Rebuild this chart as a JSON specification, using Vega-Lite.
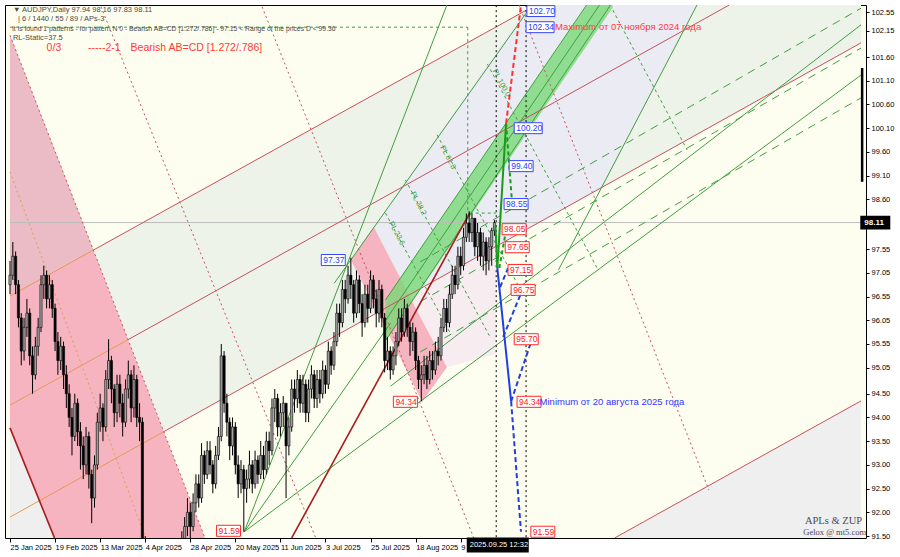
{
"$schema":"https://vega.github.io/schema/vega-lite/v6.json",
"width":861,"height":533,
"autosize":{"type":"none"},
"padding":{"left":5,"top":5,"right":34,"bottom":19},
"background":"#ffffff",
"config":{"view":{"stroke":"#000000","strokeWidth":1,"fill":"#fefef0"}},
"encoding":{
 "x":{"field":"t","type":"quantitative","title":null,"scale":{"domain":[0,302.1],"nice":false,"zero":false},
  "axis":{"orient":"bottom","title":null,"values":[0,16,32,48,64,80,96,112,128,144,160],"labelExpr":"['25 Jan 2025','19 Feb 2025','13 Mar 2025','4 Apr 2025','28 Apr 2025','20 May 2025','11 Jun 2025','3 Jul 2025','25 Jul 2025','18 Aug 2025','9'][round(datum.value/16)]","labelAlign":"left","labelDx":1,"labelFont":"Liberation Sans","labelFontSize":7.5,"labelColor":"#000000","tickColor":"#000000","tickSize":4,"domain":false,"grid":false,"labelPadding":1,"labelOverlap":false,"labelBound":false,"labelFlush":false}},
 "y":{"field":"p","type":"quantitative","title":null,"scale":{"domain":[91.458,102.698],"nice":false,"zero":false},
  "axis":{"orient":"right","title":null,"values":[91.5,92,92.5,93,93.5,94,94.5,95.05,95.55,96.05,96.55,97.05,97.55,98.6,99.1,99.6,100.1,100.6,101.1,101.6,102.15,102.55],"format":".2f","labelFont":"Liberation Sans","labelFontSize":7.5,"labelColor":"#000000","tickColor":"#000000","tickSize":3,"domain":false,"grid":false,"labelPadding":2,"labelOverlap":false,"labelBound":false,"labelFlush":false}}
},
"datasets":{
"rband":[{"t":0,"p":96.56,"bot":91.90},{"t":302.1,"p":106.49,"bot":101.90}],
"greyL":[{"t":0,"p":93.78,"bot":90},{"t":20,"p":90.85,"bot":90}],
"greyR":[{"t":200,"p":90.97,"bot":90},{"t":302.1,"p":94.35,"bot":90}],
"lav":[{"t":121.05,"p":97.32,"bot":97.32},{"t":129.1,"p":98.01,"bot":98.02},{"t":141.75,"p":99.08,"bot":96.60},{"t":184.2,"p":102.70,"bot":98.00},{"t":210.2,"p":102.70,"bot":98.84},{"t":243.9,"p":102.70,"bot":102.70}],
"lpink":[{"t":141.75,"p":96.59,"bot":96.58},{"t":155.1,"p":97.03,"bot":95.06},{"t":172.6,"p":97.61,"bot":95.34}],
"pink1":[{"t":0,"p":102.06,"bot":93.78},{"t":71.93,"p":91.04,"bot":83.23}],
"mauve":[{"t":0,"p":102.06,"bot":96.56},{"t":29.6,"p":97.53,"bot":97.53}],
"pink2":[{"t":121.05,"p":97.32,"bot":97.32},{"t":129.1,"p":98.02,"bot":96.37},{"t":146.3,"p":96.05,"bot":94.33},{"t":155.1,"p":95.06,"bot":95.06}],
"gband":[{"t":133.33,"p":96.48,"bot":95.62},{"t":213.9,"p":103.49,"bot":102.64}],
"redThin":[{"t":29.6,"p":97.53,"t2":186.67,"p2":102.70},{"t":41.9,"p":95.64,"t2":255.4,"p2":102.70},{"t":54.6,"p":93.70,"t2":302.1,"p2":101.90},{"t":214.7,"p":91.46,"t2":302.1,"p2":94.35}],
"orangeThin":[{"t":0,"p":96.56,"t2":29.6,"p2":97.53},{"t":0,"p":94.26,"t2":41.9,"p2":95.64},{"t":0,"p":91.90,"t2":54.6,"p2":93.70}],
"darkRed":[{"t":0,"p":93.78,"t2":15.79,"p2":91.46},{"t":100,"p":91.46,"t2":163.16,"p2":98.31}],
"redDot":[{"t":0,"p":102.06,"t2":70.2,"p2":91.31},{"t":32.3,"p":102.66,"t2":108.8,"p2":91.42},{"t":89.5,"p":102.66,"t2":164.9,"p2":91.42},{"t":180.7,"p":102.70,"t2":248.1,"p2":92.47}],
"orangeDot":[{"t":0,"p":99.18,"t2":48.4,"p2":91.42}],
"greenSolid":[{"t":83.16,"p":91.59,"t2":155.1,"p2":102.70},{"t":83.16,"p":91.59,"t2":135.1,"p2":95.99},{"t":83.16,"p":91.59,"t2":302.1,"p2":101.22},{"t":135.1,"p":94.66,"t2":302.1,"p2":102.28},{"t":115.1,"p":96.83,"t2":185.3,"p2":102.70},{"t":194.7,"p":97.11,"t2":243.9,"p2":102.70},{"t":133.33,"p":96.05,"t2":209.3,"p2":102.70},{"t":133.33,"p":96.48,"t2":204.7,"p2":102.70},{"t":133.33,"p":95.62,"t2":213.2,"p2":102.70}],
"greenDash":[{"t":145.6,"p":97.28,"t2":302.1,"p2":102.63},{"t":145.6,"p":96.44,"t2":302.1,"p2":101.79},{"t":145.6,"p":95.38,"t2":302.1,"p2":100.74}],
"greenFib":[{"t":133.3,"p":98.31,"t2":156.1,"p2":95.80},{"t":140.35,"p":99.01,"t2":170.2,"p2":95.72},{"t":151.6,"p":99.96,"t2":184.2,"p2":96.37},{"t":169.5,"p":101.45,"t2":208.8,"p2":97.11},{"t":214,"p":102.59,"t2":240.4,"p2":99.64},{"t":0,"p":102.23,"t2":162.5,"p2":102.23},{"t":162.5,"p":102.23,"t2":162.5,"p2":98.31},{"t":163.2,"p":98.31,"t2":172.6,"p2":98.31}],
"blackDot":[{"t":172.6,"p":90,"t2":172.6,"p2":104},{"t":183.2,"p":90,"t2":183.2,"p2":104}],
"curPrice":[{"t":0,"p":98.11,"t2":302.1,"p2":98.11}],
"patGreen":[{"t":172.3,"p":98.05,"t2":173,"p2":97.15},{"t":173,"p":97.15,"t2":176.1,"p2":100.20}],
"patGreenDash":[{"t":176.1,"p":100.20,"t2":178.2,"p2":98.55},{"t":173.7,"p":97.15,"t2":176.1,"p2":97.95}],
"patRedDash":[{"t":176.1,"p":100.20,"t2":181.4,"p2":102.70}],
"patBlue":[{"t":173,"p":97.15,"t2":177.9,"p2":94.34}],
"patBlueDash":[{"t":177.9,"p":94.34,"t2":181.4,"p2":91.59},{"t":177.9,"p":94.34,"t2":185.3,"p2":95.65},{"t":175.1,"p":95.70,"t2":181.4,"p2":96.62},{"t":174.0,"p":96.75,"t2":176.8,"p2":97.15}],
"lbBlue6":[{"t":183.5,"p":102.57,"label":"102.70"},{"t":183.2,"p":102.23,"label":"102.34"},{"t":179,"p":100.10,"label":"100.20"}],
"lbBlue5":[{"t":177.2,"p":99.30,"label":"99.40"},{"t":175.4,"p":98.50,"label":"98.55"},{"t":110.5,"p":97.32,"label":"97.37"}],
"lbRed5":[{"t":174.7,"p":97.97,"label":"98.05"},{"t":175.8,"p":97.59,"label":"97.65"},{"t":176.8,"p":97.11,"label":"97.15"},{"t":177.9,"p":96.69,"label":"96.75"},{"t":179,"p":95.65,"label":"95.70"},{"t":180,"p":94.33,"label":"94.34"},{"t":184.9,"p":91.59,"label":"91.59"},{"t":136.1,"p":94.33,"label":"94.34"},{"t":73.3,"p":91.61,"label":"91.59"}],
"hdrGrey":[{"t":1.05,"p":102.59,"text":"▼ AUDJPY,Daily  97.94 98.16 97.83 98.11"},{"t":2.8,"p":102.40,"text":"| 6 / 1440 / 55 / 89 / APs-3"},{"t":1.05,"p":102.00,"text":"RL-Static=37.5"}],
"hdrSmall":[{"t":0.7,"p":102.20,"text":"It is found 1 patterns  -  for pattern N 0 - Bearish AB=CD [1.272/.786] - 97.15 < Range of the prices D < 99.36"}],
"hdrRed":[{"t":13,"p":101.80,"text":"0/3"},{"t":27.7,"p":101.80,"text":"-----2-1"},{"t":42.8,"p":101.80,"text":"Bearish AB=CD [1.272/.786]"}],
"noteRed":[{"t":193.5,"p":102.23,"text":"Maximum от 07 ноября 2024 года"}],
"noteBlue":[{"t":188,"p":94.33,"text":"Minimum от 20 августа 2025 года"}],
"brand1":[{"t":282.2,"p":91.82,"text":"APLs & ZUP"}],
"brand2":[{"t":281.6,"p":91.59,"text":"Gelox @ mt5.com"}],
"plText":[{"t":135.1,"p":98.12,"text":"PL 23.6"},{"t":142.8,"p":98.75,"text":"PL 38.2"},{"t":153.3,"p":99.72,"text":"PL 61.8"},{"t":171.9,"p":101.33,"text":"PL 100.0"}],
"axisPrice":[{"t":302.2,"p":98.11,"label":"98.11"}],
"axisTime":[{"t":162.5,"p":91.31,"label":"2025.09.25 12:32"}],
"axisBar":[{"t":302.5,"p":101.37,"t2":302.5,"p2":98.97}],
"candles":[
{"t":0,"o":96.8,"h":97.3,"p":96.6,"c":97.0},{"t":1,"o":97.0,"h":97.7,"p":96.9,"c":97.4},{"t":2,"o":97.4,"h":97.5,"p":96.6,"c":96.8},{"t":3,"o":96.8,"h":96.9,"p":95.9,"c":96.1},{"t":4,"o":96.1,"h":96.2,"p":95.1,"c":95.4},{"t":5,"o":95.4,"h":96.1,"p":95.2,"c":95.9},{"t":6,"o":95.9,"h":96.5,"p":95.7,"c":96.2},{"t":7,"o":96.2,"h":96.3,"p":95.1,"c":95.3},{"t":8,"o":95.3,"h":95.5,"p":94.5,"c":94.9},{"t":9,"o":94.9,"h":95.7,"p":94.8,"c":95.5},
{"t":10,"o":95.5,"h":96.1,"p":95.3,"c":95.9},{"t":11,"o":95.9,"h":97.0,"p":95.8,"c":96.8},{"t":12,"o":96.8,"h":97.2,"p":96.5,"c":97.0},{"t":13,"o":97.0,"h":97.1,"p":96.3,"c":96.5},{"t":14,"o":96.5,"h":97.0,"p":96.3,"c":96.8},{"t":15,"o":96.8,"h":96.9,"p":96.1,"c":96.3},{"t":16,"o":96.3,"h":96.4,"p":95.4,"c":95.6},{"t":17,"o":95.6,"h":95.8,"p":94.9,"c":95.2},{"t":18,"o":95.2,"h":95.7,"p":95.0,"c":95.5},{"t":19,"o":95.5,"h":95.6,"p":94.6,"c":94.9},
{"t":20,"o":94.9,"h":95.1,"p":94.2,"c":94.5},{"t":21,"o":94.5,"h":94.7,"p":93.8,"c":94.0},{"t":22,"o":94.0,"h":94.2,"p":93.2,"c":93.6},{"t":23,"o":93.6,"h":94.5,"p":93.5,"c":94.3},{"t":24,"o":94.3,"h":94.4,"p":93.4,"c":93.7},{"t":25,"o":93.7,"h":93.9,"p":92.9,"c":93.4},{"t":26,"o":93.4,"h":93.6,"p":92.7,"c":93.0},{"t":27,"o":93.0,"h":93.8,"p":92.8,"c":93.6},{"t":28,"o":93.6,"h":93.7,"p":92.5,"c":92.8},{"t":29,"o":92.8,"h":92.9,"p":91.77,"c":92.3},
{"t":30,"o":92.3,"h":93.2,"p":92.1,"c":93.0},{"t":31,"o":93.0,"h":94.1,"p":92.9,"c":93.9},{"t":32,"o":93.9,"h":94.5,"p":93.7,"c":94.2},{"t":33,"o":94.2,"h":94.3,"p":93.5,"c":93.8},{"t":34,"o":93.8,"h":95.0,"p":93.7,"c":94.8},{"t":35,"o":94.8,"h":95.65,"p":94.6,"c":95.2},{"t":36,"o":95.2,"h":95.3,"p":94.3,"c":94.6},{"t":37,"o":94.6,"h":94.7,"p":93.8,"c":94.1},{"t":38,"o":94.1,"h":94.9,"p":93.9,"c":94.7},{"t":39,"o":94.7,"h":94.9,"p":94.0,"c":94.3},
{"t":40,"o":94.3,"h":94.5,"p":93.6,"c":93.9},{"t":41,"o":93.9,"h":94.8,"p":93.8,"c":94.6},{"t":42,"o":94.6,"h":95.2,"p":94.4,"c":94.9},{"t":43,"o":94.9,"h":95.0,"p":93.9,"c":94.2},{"t":44,"o":94.2,"h":95.1,"p":94.0,"c":94.8},{"t":45,"o":94.8,"h":94.9,"p":93.8,"c":94.0},{"t":46,"o":94.0,"h":94.3,"p":93.5,"c":93.9},{"t":47,"o":93.9,"h":94.0,"p":90.8,"c":91.2},{"t":48,"o":91.2,"h":91.5,"p":89.0,"c":89.6},{"t":49,"o":89.6,"h":90.0,"p":87.8,"c":88.5},
{"t":50,"o":88.5,"h":88.9,"p":86.0,"c":86.8},{"t":51,"o":86.8,"h":89.2,"p":86.5,"c":88.6},{"t":52,"o":88.6,"h":89.9,"p":88.2,"c":89.4},{"t":53,"o":89.4,"h":89.7,"p":88.3,"c":88.7},{"t":54,"o":88.7,"h":90.1,"p":88.6,"c":89.8},{"t":55,"o":89.8,"h":90.6,"p":89.5,"c":90.3},{"t":56,"o":90.3,"h":90.5,"p":89.3,"c":89.7},{"t":57,"o":89.7,"h":90.8,"p":89.5,"c":90.5},{"t":58,"o":90.5,"h":91.2,"p":90.2,"c":90.9},{"t":59,"o":90.9,"h":91.0,"p":90.1,"c":90.4},
{"t":60,"o":90.4,"h":91.3,"p":90.3,"c":91.0},{"t":61,"o":91.0,"h":91.6,"p":90.8,"c":91.3},{"t":62,"o":91.3,"h":91.9,"p":91.1,"c":91.7},{"t":63,"o":91.7,"h":92.3,"p":91.5,"c":92.0},{"t":64,"o":92.0,"h":92.2,"p":91.4,"c":91.7},{"t":65,"o":91.7,"h":92.4,"p":91.6,"c":92.2},{"t":66,"o":92.2,"h":92.8,"p":92.0,"c":92.6},{"t":67,"o":92.6,"h":92.8,"p":92.1,"c":92.3},{"t":68,"o":92.3,"h":93.46,"p":92.2,"c":93.2},{"t":69,"o":93.2,"h":93.3,"p":92.6,"c":92.8},
{"t":70,"o":92.8,"h":93.5,"p":92.7,"c":93.3},{"t":71,"o":93.3,"h":93.5,"p":92.8,"c":93.0},{"t":72,"o":93.0,"h":93.1,"p":92.4,"c":92.6},{"t":73,"o":92.6,"h":93.4,"p":92.5,"c":93.2},{"t":74,"o":93.2,"h":93.8,"p":93.1,"c":93.6},{"t":75,"o":93.6,"h":95.55,"p":93.5,"c":95.3},{"t":76,"o":95.3,"h":95.4,"p":94.1,"c":94.3},{"t":77,"o":94.3,"h":94.5,"p":93.6,"c":93.9},{"t":78,"o":93.9,"h":94.0,"p":93.1,"c":93.4},{"t":79,"o":93.4,"h":94.0,"p":93.2,"c":93.8},
{"t":80,"o":93.8,"h":93.9,"p":92.8,"c":93.0},{"t":81,"o":93.0,"h":93.2,"p":92.3,"c":92.6},{"t":82,"o":92.6,"h":93.1,"p":92.4,"c":92.9},{"t":83,"o":92.9,"h":93.0,"p":91.59,"c":92.5},{"t":84,"o":92.5,"h":92.9,"p":92.2,"c":92.7},{"t":85,"o":92.7,"h":93.3,"p":92.5,"c":93.0},{"t":86,"o":93.0,"h":93.1,"p":92.4,"c":92.6},{"t":87,"o":92.6,"h":93.3,"p":92.5,"c":93.1},{"t":88,"o":93.1,"h":93.2,"p":92.6,"c":92.8},{"t":89,"o":92.8,"h":93.5,"p":92.7,"c":93.2},
{"t":90,"o":93.2,"h":93.4,"p":92.7,"c":92.9},{"t":91,"o":92.9,"h":93.7,"p":92.8,"c":93.5},{"t":92,"o":93.5,"h":93.7,"p":93.0,"c":93.3},{"t":93,"o":93.3,"h":94.4,"p":93.2,"c":94.2},{"t":94,"o":94.2,"h":94.6,"p":93.9,"c":94.4},{"t":95,"o":94.4,"h":94.5,"p":93.6,"c":93.8},{"t":96,"o":93.8,"h":94.3,"p":93.6,"c":94.1},{"t":97,"o":94.1,"h":94.45,"p":93.8,"c":94.3},{"t":98,"o":94.3,"h":94.3,"p":92.3,"c":93.4},{"t":99,"o":93.4,"h":94.0,"p":93.2,"c":93.8},
{"t":100,"o":93.8,"h":94.8,"p":93.7,"c":94.6},{"t":101,"o":94.6,"h":94.8,"p":94.1,"c":94.4},{"t":102,"o":94.4,"h":95.0,"p":94.2,"c":94.8},{"t":103,"o":94.8,"h":94.9,"p":94.1,"c":94.3},{"t":104,"o":94.3,"h":94.9,"p":94.1,"c":94.7},{"t":105,"o":94.7,"h":94.8,"p":93.9,"c":94.1},{"t":106,"o":94.1,"h":94.8,"p":93.9,"c":94.6},{"t":107,"o":94.6,"h":95.1,"p":94.4,"c":94.9},{"t":108,"o":94.9,"h":95.0,"p":94.2,"c":94.4},{"t":109,"o":94.4,"h":95.0,"p":94.2,"c":94.8},
{"t":110,"o":94.8,"h":95.0,"p":94.3,"c":94.5},{"t":111,"o":94.5,"h":95.2,"p":94.4,"c":95.0},{"t":112,"o":95.0,"h":95.1,"p":94.5,"c":94.7},{"t":113,"o":94.7,"h":95.6,"p":94.6,"c":95.4},{"t":114,"o":95.4,"h":95.5,"p":94.9,"c":95.1},{"t":115,"o":95.1,"h":95.8,"p":95.0,"c":95.6},{"t":116,"o":95.6,"h":96.4,"p":95.5,"c":96.2},{"t":117,"o":96.2,"h":96.4,"p":95.7,"c":96.0},{"t":118,"o":96.0,"h":96.9,"p":95.9,"c":96.7},{"t":119,"o":96.7,"h":96.9,"p":96.2,"c":96.5},
{"t":120,"o":96.5,"h":97.2,"p":96.4,"c":97.0},{"t":121,"o":97.0,"h":97.37,"p":96.5,"c":96.8},{"t":122,"o":96.8,"h":96.9,"p":96.0,"c":96.2},{"t":123,"o":96.2,"h":97.1,"p":96.1,"c":96.9},{"t":124,"o":96.9,"h":97.0,"p":96.2,"c":96.4},{"t":125,"o":96.4,"h":96.6,"p":95.7,"c":96.0},{"t":126,"o":96.0,"h":96.8,"p":95.9,"c":96.6},{"t":127,"o":96.6,"h":96.8,"p":96.0,"c":96.3},{"t":128,"o":96.3,"h":97.1,"p":96.2,"c":96.9},{"t":129,"o":96.9,"h":97.0,"p":96.3,"c":96.5},
{"t":130,"o":96.5,"h":96.7,"p":95.9,"c":96.2},{"t":131,"o":96.2,"h":96.9,"p":96.0,"c":96.7},{"t":132,"o":96.7,"h":96.8,"p":95.9,"c":96.1},{"t":133,"o":96.1,"h":96.2,"p":94.95,"c":95.2},{"t":134,"o":95.2,"h":95.7,"p":95.0,"c":95.4},{"t":135,"o":95.4,"h":95.5,"p":94.8,"c":95.0},{"t":136,"o":95.0,"h":95.5,"p":94.9,"c":95.3},{"t":137,"o":95.3,"h":95.8,"p":95.1,"c":95.6},{"t":138,"o":95.6,"h":96.3,"p":95.5,"c":96.1},{"t":139,"o":96.1,"h":96.3,"p":95.6,"c":95.8},
{"t":140,"o":95.8,"h":96.5,"p":95.7,"c":96.3},{"t":141,"o":96.3,"h":96.4,"p":95.7,"c":95.9},{"t":142,"o":95.9,"h":96.0,"p":95.3,"c":95.6},{"t":143,"o":95.6,"h":96.0,"p":95.4,"c":95.8},{"t":144,"o":95.8,"h":95.9,"p":95.0,"c":95.2},{"t":145,"o":95.2,"h":95.3,"p":94.6,"c":94.8},{"t":146,"o":94.8,"h":95.1,"p":94.34,"c":94.9},{"t":147,"o":94.9,"h":95.3,"p":94.7,"c":95.1},{"t":148,"o":95.1,"h":95.3,"p":94.6,"c":94.8},{"t":149,"o":94.8,"h":95.4,"p":94.7,"c":95.2},
{"t":150,"o":95.2,"h":95.4,"p":94.8,"c":95.0},{"t":151,"o":95.0,"h":95.6,"p":94.9,"c":95.4},{"t":152,"o":95.4,"h":95.7,"p":95.1,"c":95.3},{"t":153,"o":95.3,"h":96.1,"p":95.2,"c":95.9},{"t":154,"o":95.9,"h":96.5,"p":95.8,"c":96.3},{"t":155,"o":96.3,"h":96.5,"p":95.8,"c":96.0},{"t":156,"o":96.0,"h":96.8,"p":95.9,"c":96.6},{"t":157,"o":96.6,"h":97.2,"p":96.5,"c":97.0},{"t":158,"o":97.0,"h":97.2,"p":96.6,"c":96.8},{"t":159,"o":96.8,"h":97.6,"p":96.7,"c":97.4},
{"t":160,"o":97.4,"h":97.6,"p":97.0,"c":97.2},{"t":161,"o":97.2,"h":98.0,"p":97.1,"c":97.8},{"t":162,"o":97.8,"h":98.3,"p":97.7,"c":98.1},{"t":163,"o":98.1,"h":98.35,"p":97.7,"c":97.9},{"t":164,"o":97.9,"h":98.3,"p":97.7,"c":98.2},{"t":165,"o":98.2,"h":98.2,"p":97.4,"c":97.6},{"t":166,"o":97.6,"h":98.1,"p":97.3,"c":97.9},{"t":167,"o":97.9,"h":98.0,"p":97.2,"c":97.4},{"t":168,"o":97.4,"h":97.9,"p":97.1,"c":97.7},{"t":169,"o":97.7,"h":97.8,"p":97.0,"c":97.3},
{"t":170,"o":97.3,"h":97.8,"p":97.1,"c":97.6},{"t":171,"o":97.6,"h":98.0,"p":97.2,"c":97.94},{"t":172,"o":97.94,"h":98.16,"p":97.83,"c":98.11}
]
},
"layer":[
{"data":{"name":"rband"},"mark":{"type":"area","color":"#eef3ea","clip":true},"encoding":{"y2":{"field":"bot"}}},
{"data":{"name":"greyL"},"mark":{"type":"area","color":"#efefef","clip":true},"encoding":{"y2":{"field":"bot"}}},
{"data":{"name":"greyR"},"mark":{"type":"area","color":"#efefef","clip":true},"encoding":{"y2":{"field":"bot"}}},
{"data":{"name":"lav"},"mark":{"type":"area","color":"#ebebf3","clip":true},"encoding":{"y2":{"field":"bot"}}},
{"data":{"name":"lpink"},"mark":{"type":"area","color":"#f7edf1","clip":true},"encoding":{"y2":{"field":"bot"}}},
{"data":{"name":"pink1"},"mark":{"type":"area","color":"#f6b3c0","clip":true},"encoding":{"y2":{"field":"bot"}}},
{"data":{"name":"mauve"},"mark":{"type":"area","color":"#ecbcc6","clip":true},"encoding":{"y2":{"field":"bot"}}},
{"data":{"name":"pink2"},"mark":{"type":"area","color":"#f6b3c0","clip":true},"encoding":{"y2":{"field":"bot"}}},
{"data":{"name":"gband"},"mark":{"type":"area","color":"#72d872","opacity":0.75,"clip":true},"encoding":{"y2":{"field":"bot"}}},
{"data":{"name":"curPrice"},"mark":{"type":"rule","color":"#bcbcbc","strokeWidth":1,"clip":true},"encoding":{"x2":{"field":"t2"},"y2":{"field":"p2"}}},
{"data":{"name":"redThin"},"mark":{"type":"rule","color":"#c8505c","strokeWidth":1,"clip":true},"encoding":{"x2":{"field":"t2"},"y2":{"field":"p2"}}},
{"data":{"name":"orangeThin"},"mark":{"type":"rule","color":"#e39a55","strokeWidth":1,"clip":true},"encoding":{"x2":{"field":"t2"},"y2":{"field":"p2"}}},
{"data":{"name":"redDot"},"mark":{"type":"rule","color":"#c8505c","strokeWidth":1,"strokeDash":[2,3],"clip":true},"encoding":{"x2":{"field":"t2"},"y2":{"field":"p2"}}},
{"data":{"name":"orangeDot"},"mark":{"type":"rule","color":"#e39a55","strokeWidth":1,"strokeDash":[2,3],"clip":true},"encoding":{"x2":{"field":"t2"},"y2":{"field":"p2"}}},
{"data":{"name":"greenSolid"},"mark":{"type":"rule","color":"#3f9f3f","strokeWidth":1,"clip":true},"encoding":{"x2":{"field":"t2"},"y2":{"field":"p2"}}},
{"data":{"name":"greenDash"},"mark":{"type":"rule","color":"#3f9f3f","strokeWidth":1,"strokeDash":[8,6],"clip":true},"encoding":{"x2":{"field":"t2"},"y2":{"field":"p2"}}},
{"data":{"name":"greenFib"},"mark":{"type":"rule","color":"#3f9f3f","strokeWidth":1,"strokeDash":[3,3],"clip":true},"encoding":{"x2":{"field":"t2"},"y2":{"field":"p2"}}},
{"data":{"name":"darkRed"},"mark":{"type":"rule","color":"#a81c1c","strokeWidth":1.6,"clip":true},"encoding":{"x2":{"field":"t2"},"y2":{"field":"p2"}}},
{"data":{"name":"blackDot"},"mark":{"type":"rule","color":"#000000","strokeWidth":1,"strokeDash":[2,3],"clip":true},"encoding":{"x2":{"field":"t2"},"y2":{"field":"p2"}}},
{"data":{"name":"candles"},"mark":{"type":"rule","color":"#000000","strokeWidth":1,"clip":true},"encoding":{"y2":{"field":"h"}}},
{"data":{"name":"candles"},"mark":{"type":"bar","width":2.2,"stroke":"#000000","strokeWidth":0.6,"clip":true},
 "encoding":{"y":{"field":"o","type":"quantitative","title":null},"y2":{"field":"c"},"color":{"condition":{"test":"datum.c >= datum.o","value":"#a4a4a4"},"value":"#000000"}}},
{"data":{"name":"patGreen"},"mark":{"type":"rule","color":"#1a9a1a","strokeWidth":2,"clip":true},"encoding":{"x2":{"field":"t2"},"y2":{"field":"p2"}}},
{"data":{"name":"patGreenDash"},"mark":{"type":"rule","color":"#1a9a1a","strokeWidth":2,"strokeDash":[4,3],"clip":true},"encoding":{"x2":{"field":"t2"},"y2":{"field":"p2"}}},
{"data":{"name":"patRedDash"},"mark":{"type":"rule","color":"#ff3030","strokeWidth":2,"strokeDash":[5,3],"clip":true},"encoding":{"x2":{"field":"t2"},"y2":{"field":"p2"}}},
{"data":{"name":"patBlue"},"mark":{"type":"rule","color":"#1f3fe0","strokeWidth":2,"clip":true},"encoding":{"x2":{"field":"t2"},"y2":{"field":"p2"}}},
{"data":{"name":"patBlueDash"},"mark":{"type":"rule","color":"#1f3fe0","strokeWidth":2,"strokeDash":[5,3],"clip":true},"encoding":{"x2":{"field":"t2"},"y2":{"field":"p2"}}},
{"data":{"name":"lbBlue6"},"mark":{"type":"point","shape":"M0,-0.39L2,-0.39L2,0.39L0,0.39Z","size":784,"filled":true,"fill":"#ffffff","stroke":"#3848ff","strokeWidth":1,"opacity":1,"clip":false}},
{"data":{"name":"lbBlue5"},"mark":{"type":"point","shape":"M0,-0.46L2,-0.46L2,0.46L0,0.46Z","size":576,"filled":true,"fill":"#ffffff","stroke":"#3848ff","strokeWidth":1,"opacity":1,"clip":false}},
{"data":{"name":"lbRed5"},"mark":{"type":"point","shape":"M0,-0.46L2,-0.46L2,0.46L0,0.46Z","size":576,"filled":true,"fill":"#ffffff","stroke":"#ff2a2a","strokeWidth":1,"opacity":1,"clip":false}},
{"data":{"name":"lbBlue6"},"mark":{"type":"text","align":"left","baseline":"middle","dx":2,"font":"Liberation Sans","fontSize":8.5,"color":"#2a3cff"},"encoding":{"text":{"field":"label"}}},
{"data":{"name":"lbBlue5"},"mark":{"type":"text","align":"left","baseline":"middle","dx":2,"font":"Liberation Sans","fontSize":8.5,"color":"#2a3cff"},"encoding":{"text":{"field":"label"}}},
{"data":{"name":"lbRed5"},"mark":{"type":"text","align":"left","baseline":"middle","dx":2,"font":"Liberation Sans","fontSize":8.5,"color":"#ff2020"},"encoding":{"text":{"field":"label"}}},
{"data":{"name":"hdrGrey"},"mark":{"type":"text","align":"left","baseline":"middle","font":"Liberation Sans","fontSize":7.5,"color":"#4a4a4a"},"encoding":{"text":{"field":"text"}}},
{"data":{"name":"hdrSmall"},"mark":{"type":"text","align":"left","baseline":"middle","font":"Liberation Sans","fontSize":6.8,"color":"#4a4a4a"},"encoding":{"text":{"field":"text"}}},
{"data":{"name":"hdrRed"},"mark":{"type":"text","align":"left","baseline":"middle","font":"Liberation Sans","fontSize":10.5,"color":"#ff3a3a"},"encoding":{"text":{"field":"text"}}},
{"data":{"name":"noteRed"},"mark":{"type":"text","align":"left","baseline":"middle","font":"Liberation Sans","fontSize":9.5,"color":"#ff3a3a"},"encoding":{"text":{"field":"text"}}},
{"data":{"name":"noteBlue"},"mark":{"type":"text","align":"left","baseline":"middle","font":"Liberation Sans","fontSize":9.5,"color":"#3434ff"},"encoding":{"text":{"field":"text"}}},
{"data":{"name":"brand1"},"mark":{"type":"text","align":"left","baseline":"middle","font":"Liberation Serif","fontSize":10.5,"color":"#4a4a5a"},"encoding":{"text":{"field":"text"}}},
{"data":{"name":"brand2"},"mark":{"type":"text","align":"left","baseline":"middle","font":"Liberation Serif","fontSize":8.5,"color":"#4a4a5a"},"encoding":{"text":{"field":"text"}}},
{"data":{"name":"plText"},"mark":{"type":"text","align":"left","baseline":"middle","angle":62,"font":"Liberation Sans","fontSize":7.5,"color":"#3f9f3f"},"encoding":{"text":{"field":"text"}}},
{"data":{"name":"axisBar"},"mark":{"type":"rule","color":"#000000","strokeWidth":2.5,"clip":false},"encoding":{"x2":{"field":"t2"},"y2":{"field":"p2"}}},
{"data":{"name":"axisPrice"},"mark":{"type":"point","shape":"M0,-0.42L2,-0.42L2,0.42L0,0.42Z","size":784,"filled":true,"fill":"#000000","stroke":"#000000","opacity":1,"clip":false}},
{"data":{"name":"axisPrice"},"mark":{"type":"text","align":"left","baseline":"middle","dx":3,"font":"Liberation Sans","fontSize":8,"fontWeight":"bold","color":"#ffffff"},"encoding":{"text":{"field":"label"}}},
{"data":{"name":"axisTime"},"mark":{"type":"point","shape":"M0,-0.22L2,-0.22L2,0.22L0,0.22Z","size":3600,"filled":true,"fill":"#000000","stroke":"#000000","opacity":1,"clip":false}},
{"data":{"name":"axisTime"},"mark":{"type":"text","align":"left","baseline":"middle","dx":2,"font":"Liberation Sans","fontSize":7.5,"color":"#ffffff"},"encoding":{"text":{"field":"label"}}}
]
}
